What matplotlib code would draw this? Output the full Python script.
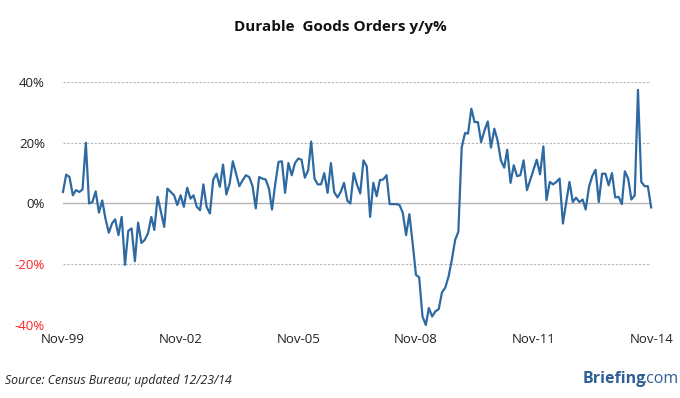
import pandas as pd
import matplotlib.pyplot as plt
from matplotlib.ticker import FuncFormatter

# monthly y/y % change, Nov-1999 .. Nov-2014
values = [
    3.8, 9.5, 8.7, 2.7, 4.4, 3.8, 4.6, 20, 0, 0.5,
    4, -3, 1, -5, -9.6, -6.5, -5.2, -10.4, -4.4, -20.2,
    -9, -8.2, -19, -6.3, -13, -12, -9.8, -4.4, -8.7, 2.2,
    -2.7, -7.7, 4.9, 3.8, 2.7, -0.5, 2.7, -1.1, 5.2, 1.6,
    2.7, -1.1, -2.2, 6.3, -1.1, -3.3, 7.9, 9.8, 5.5, 12.8,
    3, 6.6, 13.9, 9.8, 5.7, 7.7, 9.3, 8.7, 5.7, -1.6,
    8.7, 8.2, 7.9, 4.9, -2, 6.6, 13.7, 13.9, 3.5, 13.3,
    9.3, 13.3, 14.8, 14.4, 8.5, 10.9, 20.4, 8.2, 6.3, 6.3,
    10, 3.5, 13.3, 3.8, 2, 3.8, 6.8, 0.9, 0, 10,
    6.3, 3.3, 14.2, 12.2, -4.4, 6.8, 2.4, 7.7, 7.9, 9.3,
    -0.2, -0.2, -0.2, -0.5, -3, -10.4, -3.5, -13, -23.5, -24.3,
    -37.2, -40, -34.4, -37.2, -35.5, -34.8, -29.3, -27.7, -24, -18.6,
    -12, -9.3,
    18.4, 23.2, 23, 31.2, 26.8, 26.8, 20.2, 24, 27, 18.4,
    24.6, 20.8, 14.2, 11.8, 17.7, 6.8, 12.6, 9, 9.3, 14.2,
    4.4, 7.7, 11.1, 14.4, 9.6, 18.8, 1.1, 7.1, 6.3, 7.1,
    8.2, -6.6, 0.5, 7.1, 0.5, 1.9, 0.5, 1.3, -2, 5.5,
    9, 11.1, 0.5, 9.8, 9.8, 6, 10, 2, 2.2, -0.2,
    10.6, 8.2, 1.3, 2.7, 37.4, 7.1, 5.7, 5.7, -1.3,
]
dates = pd.date_range('1999-11-01', periods=len(values), freq='MS')

tick_dates = pd.to_datetime(['1999-11-01', '2002-11-01', '2005-11-01',
                             '2008-11-01', '2011-11-01', '2014-11-01'])
tick_labels = ['Nov-99', 'Nov-02', 'Nov-05', 'Nov-08', 'Nov-11', 'Nov-14']
y_ticks = [-40, -20, 0, 20, 40]

plt.rcParams['font.family'] = ['Open Sans', 'DejaVu Sans']

fig = plt.figure(figsize=(6.8, 3.98), dpi=100)
ax = fig.add_axes([0.0926, 0.1834, 0.8650, 0.6106])

# dotted grid, solid zero line
for y in y_ticks:
    if y == 0:
        ax.axhline(y, color='#b4b4b4', lw=1.0, zorder=1)
    else:
        ax.axhline(y, color='#b4b4b4', lw=0.8, ls=(0, (2, 1.5)), zorder=1)

ax.plot(dates, values, color='#2e6aa1', lw=1.6, zorder=3, clip_on=False)

ax.set_xlim(dates[0], dates[-1])
ax.set_ylim(-40, 40)
ax.set_xticks(tick_dates)
ax.set_xticklabels(tick_labels)
ax.set_yticks(y_ticks)
ax.yaxis.set_major_formatter(FuncFormatter(lambda v, p: f'{int(v)}%'))
ax.tick_params(axis='both', length=0, labelsize=9.5, colors='#222222')
ax.tick_params(axis='y', pad=13)
ax.tick_params(axis='x', pad=6)
for lbl, v in zip(ax.get_yticklabels(), y_ticks):
    lbl.set_color('#ff2020' if v < 0 else '#222222')
for s in ax.spines.values():
    s.set_visible(False)

fig.text(0.5, 0.932, 'Durable  Goods Orders y/y%', ha='center', va='center',
         fontsize=11, fontweight='bold', color='#111111')
fig.text(0.008, 0.045, 'Source: Census Bureau; updated 12/23/14', ha='left', va='center',
         fontsize=8.8, style='italic', color='#222222')
fig.text(0.857, 0.047, 'Briefing', ha='left', va='center',
         fontsize=11.5, fontweight='bold', color='#2e5f96')
fig.text(0.945, 0.047, '.com', ha='left', va='center',
         fontsize=11.5, color='#2e5f96')

fig.savefig('out.png', dpi=100)
